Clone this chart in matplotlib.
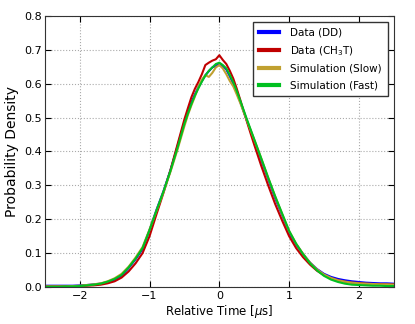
import numpy as np
import matplotlib
matplotlib.use('Agg')
import matplotlib.pyplot as plt

# time grid: 0.1 steps in the tails, 0.05 steps around the peak
t_left = [-2.5, -2.4, -2.3, -2.2, -2.1, -2.0, -1.9, -1.8, -1.7, -1.6, -1.5,
          -1.4, -1.3, -1.2, -1.1, -1.0, -0.9, -0.8, -0.7, -0.6, -0.5]
t_mid = [-0.45, -0.4, -0.35, -0.3, -0.25, -0.2, -0.15, -0.1, -0.05, 0.0,
         0.05, 0.1, 0.15, 0.2, 0.25, 0.3, 0.35, 0.4, 0.45]
t_right = [0.5, 0.6, 0.7, 0.8, 0.9, 1.0, 1.1, 1.2, 1.3, 1.4, 1.5,
           1.6, 1.7, 1.8, 1.9, 2.0, 2.1, 2.2, 2.3, 2.4, 2.5]
rel_time = np.array(t_left + t_mid + t_right)

data_dd = [0.004, 0.004, 0.004, 0.004, 0.004, 0.005, 0.006, 0.008, 0.010, 0.015, 0.022,
           0.034, 0.056, 0.082, 0.112, 0.168, 0.228, 0.283, 0.345, 0.415, 0.487,
           0.517, 0.545, 0.568, 0.590, 0.608, 0.625, 0.637, 0.648, 0.652, 0.660,
           0.652, 0.642, 0.622, 0.600, 0.574, 0.546, 0.517, 0.488, 0.460,
           0.432, 0.375, 0.318, 0.262, 0.212, 0.160, 0.125, 0.097, 0.072, 0.053, 0.039,
           0.030, 0.024, 0.020, 0.017, 0.015, 0.013, 0.012, 0.011, 0.011, 0.010]

data_ch3t = [0.002, 0.002, 0.002, 0.002, 0.002, 0.003, 0.004, 0.005, 0.007, 0.011, 0.017,
             0.028, 0.046, 0.070, 0.100, 0.150, 0.215, 0.278, 0.345, 0.420, 0.495,
             0.528, 0.560, 0.585, 0.605, 0.628, 0.655, 0.662, 0.668, 0.672, 0.684,
             0.670, 0.658, 0.638, 0.615, 0.585, 0.552, 0.518, 0.485, 0.452,
             0.420, 0.358, 0.300, 0.245, 0.196, 0.150, 0.115, 0.088, 0.066, 0.048, 0.035,
             0.026, 0.020, 0.016, 0.013, 0.012, 0.010, 0.009, 0.009, 0.008, 0.008]

sim_slow = [0.002, 0.002, 0.002, 0.002, 0.003, 0.004, 0.006, 0.008, 0.011, 0.017, 0.026,
            0.039, 0.060, 0.087, 0.118, 0.170, 0.225, 0.280, 0.340, 0.405, 0.475,
            0.508, 0.536, 0.562, 0.590, 0.612, 0.625, 0.620, 0.632, 0.648, 0.655,
            0.645, 0.628, 0.608, 0.592, 0.568, 0.543, 0.516, 0.489, 0.462,
            0.435, 0.380, 0.322, 0.267, 0.215, 0.165, 0.128, 0.098, 0.072, 0.052, 0.037,
            0.027, 0.020, 0.016, 0.013, 0.011, 0.010, 0.009, 0.008, 0.008, 0.007]

sim_fast = [0.001, 0.001, 0.001, 0.002, 0.002, 0.003, 0.005, 0.007, 0.010, 0.016, 0.024,
            0.036, 0.058, 0.084, 0.115, 0.168, 0.226, 0.282, 0.343, 0.410, 0.482,
            0.512, 0.540, 0.565, 0.586, 0.606, 0.624, 0.638, 0.648, 0.658, 0.662,
            0.655, 0.645, 0.626, 0.604, 0.578, 0.550, 0.521, 0.492, 0.464,
            0.436, 0.380, 0.323, 0.268, 0.217, 0.166, 0.128, 0.097, 0.070, 0.049, 0.033,
            0.022, 0.015, 0.010, 0.007, 0.006, 0.005, 0.004, 0.004, 0.003, 0.003]

series = [
    ('Data (DD)', data_dd, '#0000ff'),
    ('Data (CH$_3$T)', data_ch3t, '#c00000'),
    ('Simulation (Slow)', sim_slow, '#c0a030'),
    ('Simulation (Fast)', sim_fast, '#00c020'),
]

fig = plt.figure(figsize=(4.15, 3.24), dpi=100)
ax = fig.add_axes([0.108, 0.114, 0.841, 0.837])

for label, vals, col in series:
    ax.plot(rel_time, vals, '-', color=col, linewidth=1.5, label=label)

ax.set_xlim(-2.5, 2.5)
ax.set_ylim(0.0, 0.8)
ax.set_xticks([-2, -1, 0, 1, 2])
ax.set_yticks(np.arange(0, 0.81, 0.1))
ax.set_xticklabels(['\u22122', '\u22121', '0', '1', '2'])
ax.set_yticklabels(['%.1f' % v for v in np.arange(0, 0.81, 0.1)])
ax.tick_params(direction='in', top=True, right=True, labelsize=8, length=4)
ax.tick_params(axis='x', pad=3)
ax.tick_params(axis='y', pad=2)
ax.grid(True, color='#aaaaaa', linestyle=':', linewidth=0.8)
for sp in ax.spines.values():
    sp.set_color('#333333')

ax.set_xlabel(r'Relative Time [$\mu$s]', fontsize=8.5, labelpad=1)
ax.set_ylabel('Probability Density', fontsize=10, labelpad=4)

leg = ax.legend(loc='upper right', fontsize=7.5, fancybox=False, framealpha=1,
                handlelength=1.9, handletextpad=1.1, borderpad=0.55,
                borderaxespad=0.6, labelspacing=0.6)
leg.get_frame().set_edgecolor('#333333')
for line in leg.get_lines():
    line.set_linewidth(3)

fig.savefig('out.png', dpi=100)
